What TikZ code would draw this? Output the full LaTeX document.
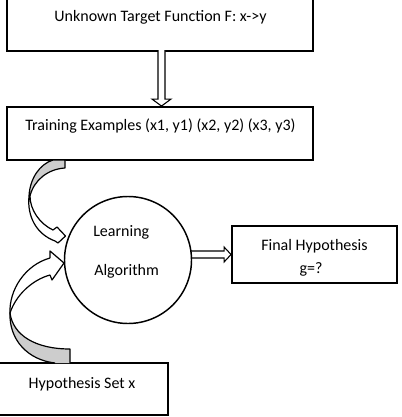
\documentclass[tikz,border=0pt]{standalone}
\usepackage{fontspec}
\setmainfont{Carlito}
\usetikzlibrary{calc}
\definecolor{ribbongray}{RGB}{205,205,205}
\tikzset{
  box/.style={draw=black, line width=1.4pt, rectangle, inner sep=0pt},
  lbl/.style={font=\fontsize{12}{14}\selectfont, inner sep=0pt, anchor=base},
  blockarrow/.style={draw=black, line width=0.8pt, fill=white, line join=miter},
  ribbon/.style={draw=black, line width=0.9pt, fill=white, line join=round},
}
\begin{document}
\begin{tikzpicture}[x=0.75pt, y=-0.75pt]
\useasboundingbox (0,0) rectangle (401,417);
% boxes
\node[box, minimum width=306*0.75pt, minimum height=80*0.75pt] (target) at (160,11) {};
\node[box, minimum width=306*0.75pt, minimum height=53*0.75pt] (train) at (160,133.5) {};
\node[box, minimum width=165*0.75pt, minimum height=57*0.75pt] (final) at (314.5,254.5) {};
\node[box, minimum width=190*0.75pt, minimum height=52*0.75pt] (hset) at (73,389) {};
% texts
\node[lbl] (ttarget) at (160.5,22) {Unknown Target Function F: x->y};
\node[lbl] (ttrain) at (160.5,130.5) {Training Examples (x1, y1) (x2, y2) (x3, y3)};
\node[lbl] (tfinal1) at (314.5,250) {Final Hypothesis};
\node[lbl] (tfinal2) at (311,273) {g=?};
\node[lbl] (thset) at (82,388) {Hypothesis Set x};
% down block arrow
\draw[blockarrow] ($(train.north)+(-2,-56)$) -- ($(train.north)+(-2,-7)$) -- ($(train.north)+(-8,-7)$)
  -- ($(train.north)+(1.5,0)$) -- ($(train.north)+(11,-7)$) -- ($(train.north)+(5,-7)$) -- ($(train.north)+(5,-56)$);
% right block arrow
\draw[blockarrow] ($(final.west)+(-45,-3.5)$) -- ($(final.west)+(-7,-3.5)$) -- ($(final.west)+(-7,-7.5)$)
  -- (final.west) -- ($(final.west)+(-7,7.5)$) -- ($(final.west)+(-7,3.5)$) -- ($(final.west)+(-45,3.5)$);
% circle
\node[draw=black, line width=1.1pt, circle, fill=white, minimum size=127*0.75pt, inner sep=0pt] (la) at (128,260) {};
\node[lbl, anchor=base west] (tlearn) at (93,236.5) {Learning};
\node[lbl, anchor=base west] (talgo) at (94,275.5) {Algorithm};
% top curved arrow (training -> learning algorithm)
\path[fill=white] (53,160) -- (65,160) -- (65,168)
  .. controls (48,169) and (34,180) .. (30,196)
  .. controls (30,210) and (40,224) .. (53,230)
  -- (57,227) -- (65.5,236) -- (58,243) -- (55,241)
  .. controls (36,234) and (27,216) .. (29,196)
  .. controls (30,178) and (40,164) .. (53,160) -- cycle;
\path[fill=ribbongray] (53,160) -- (65,160) -- (65,168)
  .. controls (48,169) and (34,180) .. (30,196) -- (29,196)
  .. controls (30,178) and (40,164) .. (53,160) -- cycle;
\draw[ribbon, fill=none] (53,160) -- (65,160) -- (65,168)
  .. controls (48,169) and (34,180) .. (30,196)
  .. controls (30,210) and (40,224) .. (53,230)
  -- (57,227) -- (65.5,236) -- (58,243) -- (55,241)
  .. controls (36,234) and (27,216) .. (29,196)
  .. controls (30,178) and (40,164) .. (53,160);
% bottom curved arrow (hypothesis set -> learning algorithm)
\path[fill=white] (50,258) -- (50,251) -- (64,263) -- (52,280) -- (50,275)
  .. controls (32,280) and (16,295) .. (11,314)
  .. controls (10,290) and (25,265) .. (50,258) -- cycle;
\path[fill=ribbongray] (10,313) .. controls (13,335) and (35,349) .. (70,349)
  -- (70,363) -- (55,363) .. controls (28,360) and (9,340) .. (10,313) -- cycle;
\draw[ribbon, fill=none] (50,258) -- (50,251) -- (64,263) -- (52,280) -- (50,275)
  .. controls (32,280) and (16,295) .. (10,313)
  .. controls (13,335) and (35,349) .. (70,349) -- (70,363);
\draw[ribbon, fill=none] (50,258) .. controls (25,265) and (9,290) .. (10,313)
  .. controls (9,340) and (28,360) .. (55,363);
\end{tikzpicture}
\end{document}
